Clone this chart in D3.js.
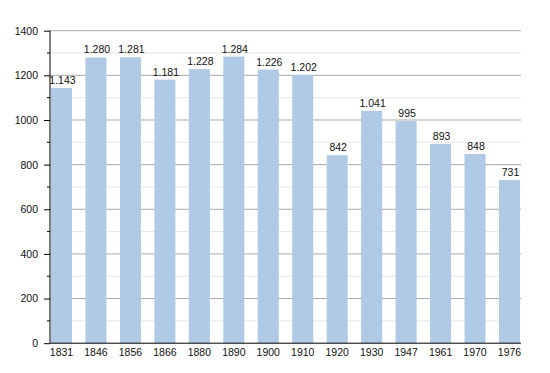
<!DOCTYPE html>
<html>
<head>
<meta charset="utf-8">
<script src="https://cdn.jsdelivr.net/npm/d3@7"></script>
<style>
  body { margin: 0; background: #fff; }
  text { font-family: "Liberation Sans", Arial, sans-serif; font-size: 10.5px; fill: #111; }
</style>
</head>
<body>
<div id="graph"></div>
<script>
var years = ['1831', '1846', '1856', '1866', '1880', '1890', '1900', '1910', '1920', '1930', '1947', '1961', '1970', '1976'];
var population = [1143, 1280, 1281, 1181, 1228, 1284, 1226, 1202, 842, 1041, 995, 893, 848, 731];
var majorTicks = [0, 200, 400, 600, 800, 1000, 1200, 1400];
var minorTicks = [100, 300, 500, 700, 900, 1100, 1300];

var width = 550,
	height = 373;

var plotLeft = 50, plotRight = 521, plotTop = 30.7, plotBottom = 343.2;

var svg = d3.select('#graph').append('svg')
			.attr('width', width)
			.attr('height', height);

var xScale = d3.scaleBand()
				.domain(years)
				.range([51, 520])
				.paddingInner(0.39)
				.paddingOuter(0);

var yScale = d3.scaleLinear()
				.domain([0, 1400])
				.range([plotBottom, plotTop]);

var fmt = function(v) {
	return d3.format(',')(v).replace(',', '.');
};

// gridlines
svg.append('g').selectAll('line').data(minorTicks).enter()
	.append('line')
		.attr('x1', plotLeft).attr('x2', plotRight)
		.attr('y1', function(d) { return yScale(d); })
		.attr('y2', function(d) { return yScale(d); })
		.attr('stroke', '#e6e6e6');

svg.append('g').selectAll('line').data(majorTicks.slice(1)).enter()
	.append('line')
		.attr('x1', plotLeft).attr('x2', plotRight)
		.attr('y1', function(d) { return yScale(d); })
		.attr('y2', function(d) { return yScale(d); })
		.attr('stroke', '#a9a9a9');

// bars
svg.append('g').selectAll('rect').data(population).enter()
	.append('rect')
		.attr('x', function(d, i) { return xScale(years[i]); })
		.attr('y', function(d) { return yScale(d); })
		.attr('width', xScale.bandwidth())
		.attr('height', function(d) { return plotBottom - yScale(d); })
		.attr('fill', '#b0c9e4');

// value labels
svg.append('g').selectAll('text').data(population).enter()
	.append('text')
		.attr('x', function(d, i) { return xScale(years[i]) + xScale.bandwidth() / 2 + 1; })
		.attr('y', function(d) { return yScale(d) - 4; })
		.attr('text-anchor', 'middle')
		.text(function(d) { return fmt(d); });

// y axis
var yAxis = d3.axisLeft(yScale)
				.tickValues(majorTicks)
				.tickSize(6)
				.tickPadding(6)
				.tickFormat(d3.format('d'));

var yg = svg.append('g')
	.attr('transform', 'translate(' + plotLeft + ',0)')
	.call(yAxis);
yg.select('.domain').remove();
yg.selectAll('.tick line').attr('stroke', '#000');
yg.selectAll('.tick text').style('font-size', '10.5px').style('font-family', '"Liberation Sans", Arial, sans-serif').attr('fill', '#111');

yg.selectAll('.minor').data(minorTicks).enter()
	.append('line')
		.attr('class', 'minor')
		.attr('x1', -3).attr('x2', 0)
		.attr('y1', function(d) { return yScale(d); })
		.attr('y2', function(d) { return yScale(d); })
		.attr('stroke', '#000');

yg.append('line')
	.attr('x1', 0).attr('x2', 0)
	.attr('y1', plotTop).attr('y2', plotBottom)
	.attr('stroke', '#000');

// x axis
var xg = svg.append('g');
xg.append('line')
	.attr('x1', plotLeft).attr('x2', plotRight)
	.attr('y1', plotBottom).attr('y2', plotBottom)
	.attr('stroke', '#000');

xg.selectAll('text').data(years).enter()
	.append('text')
		.attr('x', function(d) { return xScale(d) + xScale.bandwidth() / 2; })
		.attr('y', plotBottom + 13)
		.attr('text-anchor', 'middle')
		.text(function(d) { return d; });
</script>
</body>
</html>
